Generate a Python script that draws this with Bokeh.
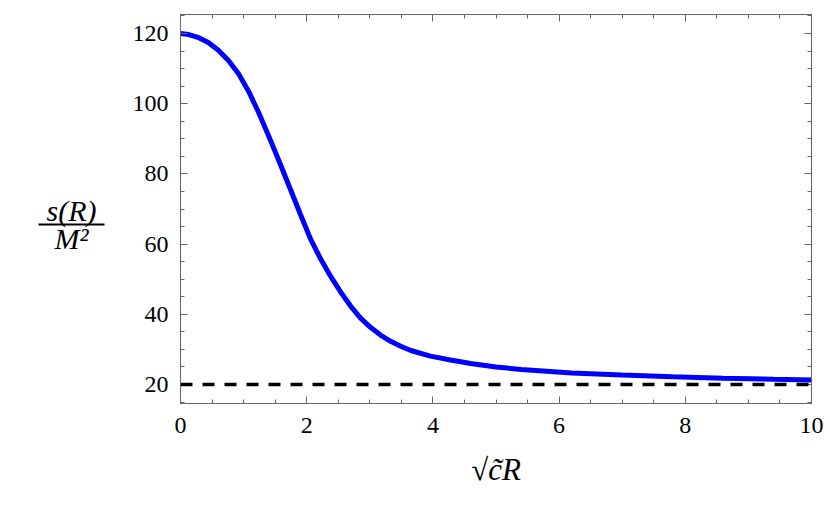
from bokeh.plotting import figure
from bokeh.layouts import row
from bokeh.models import (Range1d, LinearAxis, SingleIntervalTicker, Span,
                          CustomJSTickFormatter)
from bokeh.core.properties import value
from bokeh.embed import file_html
from bokeh.resources import INLINE

# ---- data ----
r_vals = [0.0, 0.13, 0.29, 0.44, 0.60, 0.76, 0.92, 1.08, 1.24, 1.43, 1.59,
          1.74, 1.90, 2.06, 2.22, 2.38, 2.54, 2.69, 2.85, 3.01, 3.17, 3.33,
          3.49, 3.65, 3.96, 4.28, 4.60, 5.00, 5.40, 6.20, 7.00, 7.80, 8.60,
          9.40, 10.0]
s_vals = [120.0, 119.7, 118.8, 117.4, 115.2, 112.3, 108.5, 103.5, 97.4, 89.4,
          82.4, 75.7, 68.5, 61.5, 55.8, 50.8, 46.3, 42.5, 39.0, 36.3, 34.1,
          32.3, 30.9, 29.7, 28.1, 27.0, 26.0, 25.0, 24.3, 23.3, 22.7, 22.2,
          21.8, 21.5, 21.3]
asymptote = 20.0

x_range = (0.0, 10.0)
y_range = (14.6, 125.4)
x_major = 2
y_major = 20

x_label = "\u221Ac\u0303R"
y_num = "s(R)"
y_den = "M\u00B2"

FRAME = "#666666"
SERIF = "Liberation Serif"
TOP, BOTTOM = 14, 112

# ---- main plot ----
p = figure(width=710, height=515, output_backend="svg", toolbar_location=None,
           x_range=Range1d(*x_range), y_range=Range1d(*y_range),
           min_border_left=60, min_border_right=19, min_border_top=TOP,
           min_border_bottom=BOTTOM, background_fill_color="white",
           border_fill_color="white")
p.outline_line_color = FRAME
p.outline_line_width = 1
p.grid.visible = False

xt = SingleIntervalTicker(interval=x_major, num_minor_ticks=4)
yt = SingleIntervalTicker(interval=y_major, num_minor_ticks=4)
bottom = p.below[0]
left = p.left[0]
bottom.ticker = xt
left.ticker = yt

top = LinearAxis(ticker=xt)
right = LinearAxis(ticker=yt)
p.add_layout(top, "above")
p.add_layout(right, "right")

for ax in [bottom, left, top, right]:
    ax.axis_line_color = FRAME
    ax.major_tick_line_color = FRAME
    ax.minor_tick_line_color = FRAME
    ax.major_tick_out = 0
    ax.minor_tick_out = 0
    ax.major_tick_in = 7
    ax.minor_tick_in = 4
    ax.major_label_text_font = SERIF
    ax.major_label_text_font_size = "24px"
    ax.major_label_text_color = "black"

bottom.major_label_standoff = 14
left.major_label_standoff = 12
for ax in [top, right]:
    ax.formatter = CustomJSTickFormatter(code="return ''")
    ax.major_label_text_font_size = "1px"
    ax.major_label_standoff = 0

bottom.axis_label = x_label
bottom.axis_label_text_font = SERIF
bottom.axis_label_text_font_style = "italic"
bottom.axis_label_text_font_size = "31px"
bottom.axis_label_text_color = "black"
bottom.axis_label_standoff = 16

p.add_layout(Span(location=asymptote, dimension="width", line_color="black",
                  line_width=3.5, line_dash="12 10"))
p.line(r_vals, s_vals, line_color="#0000FF", line_width=5)

# ---- y-axis title panel (fraction); frame aligned with the main frame ----
q = figure(width=120, height=515, output_backend="svg", toolbar_location=None,
           x_range=Range1d(0, 120), y_range=Range1d(515 - BOTTOM, TOP),
           x_axis_type=None, y_axis_type=None, min_border_left=0,
           min_border_right=0, min_border_top=TOP, min_border_bottom=BOTTOM,
           background_fill_color="white", border_fill_color="white")
q.outline_line_color = None
q.grid.visible = False
q.text(x=[71, 71], y=[210, 238], text=[y_num, y_den],
       text_font=value(SERIF), text_font_style="italic",
       text_font_size="30px", text_align="center", text_baseline="middle",
       text_color="black")
q.segment(x0=[38], y0=[224], x1=[104], y1=[224], line_color="black",
          line_width=2)

layout = row(q, p, spacing=0)
open("out.html", "w").write(file_html(layout, INLINE))
